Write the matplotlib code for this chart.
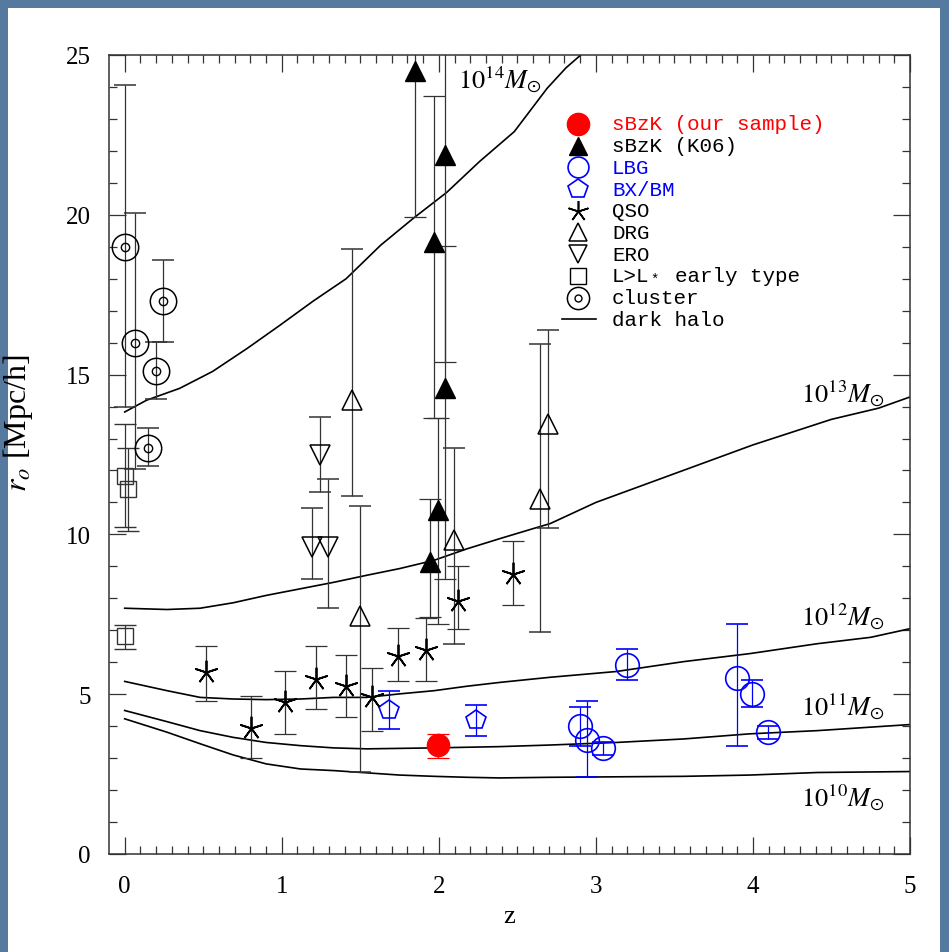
import numpy as np
import matplotlib.pyplot as plt
from matplotlib.patches import Rectangle
from matplotlib.lines import Line2D

plt.rcParams['font.family'] = 'Liberation Serif'
plt.rcParams['mathtext.fontset'] = 'stix'

# ---- data ----
ours_z = [1.997]
ours_r = [3.41]
ours_lo = [3.0]
ours_hi = [3.76]

k06_z = [1.848, 1.971, 2.039, 2.039, 1.997, 1.944]
k06_r = [24.49, 19.16, 21.87, 14.57, 10.75, 9.13]
k06_lo = [19.94, 13.64, 15.4, 8.62, 7.2, 7.41]
k06_hi = [29.0, 23.73, 29.0, 19.03, 13.64, 11.1]

lbg_z = [2.9, 2.942, 3.047, 3.196, 3.897, 3.996, 4.098]
lbg_r = [4.02, 3.58, 3.31, 5.92, 5.5, 5.01, 3.81]
lbg_lo = [3.39, 2.42, 3.1, 5.43, 3.39, 4.61, 3.6]
lbg_hi = [4.59, 4.78, 3.5, 6.4, 7.2, 5.43, 4.0]

bx_z = [1.685, 2.237]
bx_r = [4.49, 4.2]
bx_lo = [3.92, 3.7]
bx_hi = [5.09, 4.67]

qso_z = [0.518, 0.803, 1.02, 1.218, 1.409, 1.573, 1.738, 1.916, 2.124, 2.474]
qso_r = [5.71, 3.93, 4.75, 5.48, 5.25, 4.9, 6.21, 6.37, 7.93, 8.77]
qso_lo = [4.8, 3.0, 3.76, 4.54, 4.28, 3.86, 5.4, 5.4, 7.03, 7.8]
qso_hi = [6.5, 4.93, 5.74, 6.5, 6.24, 5.83, 7.08, 7.39, 9.0, 9.78]

drg_z = [1.445, 1.498, 2.097, 2.644, 2.697]
drg_r = [14.2, 7.46, 9.84, 11.12, 13.44]
drg_lo = [11.19, 2.56, 6.58, 6.94, 10.2]
drg_hi = [18.93, 10.88, 12.7, 15.95, 16.39]

ero_z = [1.194, 1.243, 1.296]
ero_r = [9.61, 12.47, 9.61]
ero_lo = [8.59, 11.33, 7.7]
ero_hi = [10.82, 13.67, 11.72]

early_z = [0.0, 0.023, 0.0]
early_r = [11.83, 11.41, 6.82]
early_lo = [10.23, 10.1, 6.42]
early_hi = [13.44, 12.7, 7.18]

cl_z = [0.0, 0.066, 0.146, 0.199, 0.246]
cl_r = [19.0, 16.0, 12.7, 15.1, 17.3]
cl_lo = [14.0, 12.06, 12.13, 14.23, 16.03]
cl_hi = [24.05, 20.05, 13.33, 16.03, 18.6]

# dark halo curves
h14_z = [0.0, 0.14, 0.35, 0.56, 0.78, 0.99, 1.2, 1.41, 1.63, 1.84, 2.05, 2.26, 2.48, 2.69, 2.81, 2.95]
h14_r = [13.83, 14.2, 14.57, 15.1, 15.82, 16.55, 17.3, 18.0, 19.05, 19.9, 20.7, 21.67, 22.6, 23.96, 24.6, 25.2]
h13_z = [0.0, 0.27, 0.48, 0.69, 0.9, 1.12, 1.33, 1.54, 1.75, 1.97, 2.18, 2.39, 2.6, 2.71, 3.0, 3.5, 4.0, 4.5, 4.8, 5.0]
h13_r = [7.69, 7.65, 7.69, 7.86, 8.09, 8.3, 8.5, 8.72, 8.93, 9.19, 9.55, 9.87, 10.18, 10.34, 11.0, 11.9, 12.8, 13.6, 13.95, 14.3]
h12_z = [0.0, 0.27, 0.48, 0.69, 0.9, 1.12, 1.33, 1.54, 1.75, 1.97, 2.18, 2.39, 2.71, 3.13, 3.56, 3.98, 4.41, 4.75, 5.0]
h12_r = [5.4, 5.11, 4.9, 4.85, 4.83, 4.85, 4.9, 4.9, 5.01, 5.11, 5.25, 5.37, 5.53, 5.71, 6.02, 6.27, 6.58, 6.78, 7.05]
h11_z = [0.0, 0.27, 0.48, 0.69, 0.9, 1.12, 1.33, 1.54, 1.97, 2.39, 2.71, 3.13, 3.56, 3.98, 4.41, 5.0]
h11_r = [4.49, 4.14, 3.86, 3.65, 3.49, 3.39, 3.32, 3.29, 3.32, 3.36, 3.41, 3.49, 3.6, 3.76, 3.86, 4.05]
h10_z = [0.0, 0.27, 0.48, 0.69, 0.9, 1.12, 1.33, 1.54, 1.75, 1.97, 2.18, 2.39, 2.71, 3.56, 3.98, 4.41, 5.0]
h10_r = [4.23, 3.81, 3.45, 3.1, 2.82, 2.66, 2.61, 2.54, 2.47, 2.43, 2.4, 2.38, 2.4, 2.43, 2.47, 2.55, 2.58]

halo_labels = [r'$10^{14}M_{\odot}$', r'$10^{13}M_{\odot}$', r'$10^{12}M_{\odot}$',
               r'$10^{11}M_{\odot}$', r'$10^{10}M_{\odot}$']
legend_labels = ['sBzK (our sample)', 'sBzK (K06)', 'LBG', 'BX/BM', 'QSO', 'DRG', 'ERO',
                 'L>L', 'cluster', 'dark halo']

# ---- figure ----
fig = plt.figure(figsize=(9.49, 9.53), dpi=100, facecolor='#56799f')
fig.add_artist(Rectangle((8 / 949, 0), 932 / 949, 944 / 953, transform=fig.transFigure,
                         facecolor='white', edgecolor='none', zorder=-10))
ax = fig.add_axes([109 / 949, 1 - 855 / 953, 801 / 949, 799 / 953])

for hz, hr in [(h14_z, h14_r), (h13_z, h13_r), (h12_z, h12_r), (h11_z, h11_r), (h10_z, h10_r)]:
    ax.plot(hz, hr, color='black', lw=1.2, zorder=2)


def errs(r, lo, hi):
    r = np.asarray(r)
    return [r - np.asarray(lo), np.asarray(hi) - r]


eb = dict(ls='none', elinewidth=0.9, capsize=8, capthick=0.9, zorder=3)
ax.errorbar(cl_z, cl_r, yerr=errs(cl_r, cl_lo, cl_hi), fmt='o', ms=19, mfc='none',
            mec='black', mew=1.1, ecolor='#333333', **eb)
ax.plot(cl_z, cl_r, 'o', ms=6, mfc='none', mec='black', mew=1.0, zorder=4)
ax.errorbar(early_z, early_r, yerr=errs(early_r, early_lo, early_hi), fmt='s', ms=11,
            mfc='none', mec='#333333', mew=1.0, ecolor='#333333', **eb)
ax.errorbar(qso_z, qso_r, yerr=errs(qso_r, qso_lo, qso_hi), fmt='none', ecolor='#333333', **eb)
ax.plot(qso_z, qso_r, ls='none', marker=(5, 2, 0), ms=17, color='black', mew=1.3, zorder=4)
ax.errorbar(ero_z, ero_r, yerr=errs(ero_r, ero_lo, ero_hi), fmt='v', ms=15, mfc='none',
            mec='black', mew=1.1, ecolor='#333333', **eb)
ax.errorbar(drg_z, drg_r, yerr=errs(drg_r, drg_lo, drg_hi), fmt='^', ms=15, mfc='none',
            mec='black', mew=1.1, ecolor='#333333', **eb)
ax.errorbar(k06_z, k06_r, yerr=errs(k06_r, k06_lo, k06_hi), fmt='^', ms=14, mfc='black',
            mec='black', ecolor='#333333', **eb)
ax.errorbar(bx_z, bx_r, yerr=errs(bx_r, bx_lo, bx_hi), fmt='p', ms=15, mfc='none',
            mec='#0000ff', mew=1.2, ecolor='#0000ff', **eb)
ax.errorbar(lbg_z, lbg_r, yerr=errs(lbg_r, lbg_lo, lbg_hi), fmt='o', ms=17, mfc='none',
            mec='#0000ff', mew=1.2, ecolor='#0000ff', **eb)
ax.errorbar(ours_z, ours_r, yerr=errs(ours_r, ours_lo, ours_hi), fmt='o', ms=16,
            mfc='#ff0000', mec='#ff0000', ecolor='#ff0000', **eb)

# halo labels
ax.text(2.12, 24.25, halo_labels[0], fontsize=19, ha='left', va='center')
for lab, yy in zip(halo_labels[1:], [14.45, 7.45, 4.63, 1.81]):
    ax.text(4.84, yy, lab, fontsize=19, ha='right', va='center')

# legend drawn by hand
leg_fs = 15
mx, tx, y0, dy = 0.5855, 0.628, 0.9137, 0.02716
leg_markers = [dict(marker='o', ms=16, mfc='#ff0000', mec='#ff0000'),
               dict(marker='^', ms=13, mfc='black', mec='black'),
               dict(marker='o', ms=15, mfc='none', mec='#0000ff', mew=1.2),
               dict(marker='p', ms=15, mfc='none', mec='#0000ff', mew=1.2),
               dict(marker=(5, 2, 0), ms=15, color='black', mew=1.2),
               dict(marker='^', ms=13, mfc='none', mec='black', mew=1.1),
               dict(marker='v', ms=13, mfc='none', mec='black', mew=1.1),
               dict(marker='s', ms=11, mfc='none', mec='black', mew=1.0),
               dict(marker='o', ms=16, mfc='none', mec='black', mew=1.1),
               None]
leg_colors = ['#ff0000', 'black', '#0000ff', '#0000ff', 'black', 'black', 'black', 'black',
              'black', 'black']
for i, (lab, col, mk) in enumerate(zip(legend_labels, leg_colors, leg_markers)):
    yy = y0 - i * dy
    if mk is None:
        ax.add_line(Line2D([mx - 0.02, mx + 0.022], [yy, yy], transform=ax.transAxes,
                           color='black', lw=1.2))
    else:
        ax.plot([mx], [yy], ls='none', transform=ax.transAxes, clip_on=False, zorder=5, **mk)
        if lab == 'cluster':
            ax.plot([mx], [yy], 'o', ms=5, mfc='none', mec='black', mew=1.0,
                    transform=ax.transAxes, zorder=5)
    ax.text(tx, yy, lab, transform=ax.transAxes, color=col, fontsize=leg_fs,
            family='Liberation Mono', va='center', ha='left')
    if lab == 'L>L':
        # subscript star of L_*, then the rest of the entry
        ax.annotate('*', (tx, yy), xycoords='axes fraction',
                    xytext=(3 * 0.6 * leg_fs + 0.5, -2), textcoords='offset points',
                    fontsize=10, family='Liberation Mono', va='center', ha='left')
        ax.annotate('early type', (tx, yy), xycoords='axes fraction',
                    xytext=(5 * 0.6 * leg_fs, 0), textcoords='offset points',
                    fontsize=leg_fs, family='Liberation Mono', va='center', ha='left')

ax.set_xlim(-0.1, 5.0)
ax.set_ylim(0, 25)
ax.set_xticks(range(0, 6))
ax.set_yticks(range(0, 26, 5))
ax.set_xticks(np.arange(0, 5.01, 0.1), minor=True)
ax.set_yticks(range(0, 26), minor=True)
ax.tick_params(which='both', direction='in', top=True, right=True, labelsize=18, width=0.9,
               colors='#333333', labelcolor='black')
ax.tick_params(which='major', length=12)
ax.tick_params(which='minor', length=6)
ax.tick_params(axis='y', pad=13)
ax.tick_params(axis='x', pad=15)
for sp in ax.spines.values():
    sp.set_linewidth(1.1)
    sp.set_color('#333333')

ax.set_xlabel('z', fontsize=19, labelpad=6)
ax.set_ylabel(r'$r_o$ [Mpc/h]', fontsize=23)
ax.yaxis.set_label_coords(-0.092, 0.54)

fig.savefig('out.png', dpi=100, facecolor=fig.get_facecolor())
